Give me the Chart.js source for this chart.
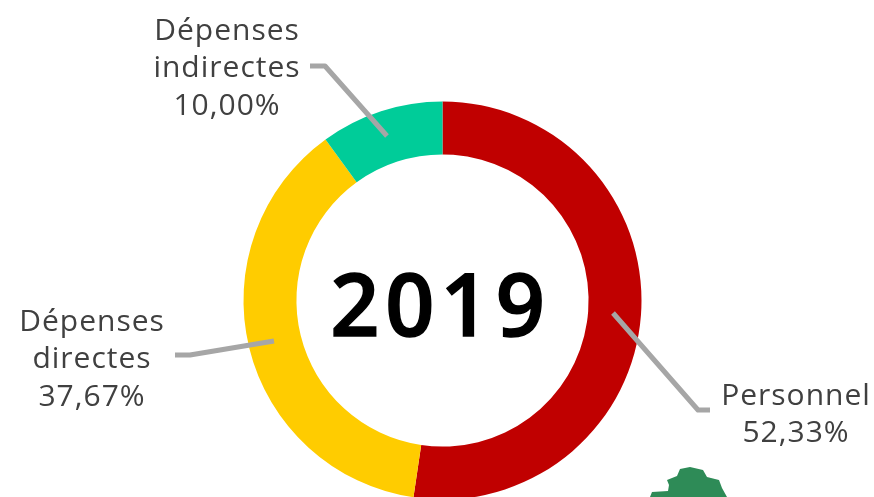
<!DOCTYPE html>
<html><head><meta charset="utf-8">
<style>html,body{margin:0;padding:0;background:#fff;overflow:hidden;width:874px;height:497px}
#w{position:relative;width:874px;height:497px;overflow:hidden}canvas{display:block}</style>
<script src="https://cdn.jsdelivr.net/npm/chart.js@4"></script></head><body>
<div id="w"><canvas id="c" width="874" height="600" style="width:874px;height:600px"></canvas></div>
<script>
const categories=['Personnel','Dépenses directes','Dépenses indirectes'];
const values=[52.33,37.67,10.00];
const colors=['#C00000','#FFCC00','#00CC99'];
const centerTitle='2019';
const labelLines=[['Personnel','52,33%'],['Dépenses','directes','37,67%'],['Dépenses','indirectes','10,00%']];
const labelAnchors=[{x:796,y:396},{x:92,y:322},{x:227,y:31}];
const leaders=[[[613,313],[698,410],[710,410]],[[274,341],[190,355],[175,355]],[[387,136],[325,66],[310,66]]];
const blob=[[650,497],[652,492],[668,491],[669,485],[667,480],[677,476],[680,469],[690,467],[703,470],[707,477],[719,480],[722,488],[727,497]];
const deco={id:'deco',afterDraw(ch){
  const c=ch.ctx;c.save();
  c.fillStyle='#2E8B57';c.beginPath();blob.forEach((p,i)=>i?c.lineTo(p[0],p[1]):c.moveTo(p[0],p[1]));c.closePath();c.fill();
  c.strokeStyle='#A6A6A6';c.lineWidth=5;c.lineJoin='round';
  leaders.forEach(l=>{c.beginPath();l.forEach((p,i)=>i?c.lineTo(p[0],p[1]):c.moveTo(p[0],p[1]));c.stroke();});
  c.fillStyle='#404040';c.textAlign='center';c.textBaseline='middle';
  c.font='30px "Open Sans"';c.letterSpacing='1px';
  labelLines.forEach((ls,i)=>ls.forEach((t,j)=>c.fillText(t,labelAnchors[i].x,labelAnchors[i].y+j*37.5)));
  const m=ch.getDatasetMeta(0).data[0];
  c.fillStyle='#000';c.font='600 86px "Open Sans"';c.letterSpacing='6px';
  c.strokeStyle='#000';c.lineWidth=1.5;c.lineJoin='miter';
  c.fillText(centerTitle,m.x-2,m.y+11);
  c.strokeText(centerTitle,m.x-2,m.y+11);
  c.restore();
}};
new Chart(document.getElementById('c'),{type:'doughnut',
 data:{labels:categories,datasets:[{data:values,backgroundColor:colors,borderWidth:0}]},
 options:{responsive:false,animation:false,radius:199,cutout:'73.4%',
  layout:{padding:{left:11,right:0,top:1,bottom:0}},
  plugins:{legend:{display:false},tooltip:{enabled:false}}},
 plugins:[deco]});
</script></body></html>
